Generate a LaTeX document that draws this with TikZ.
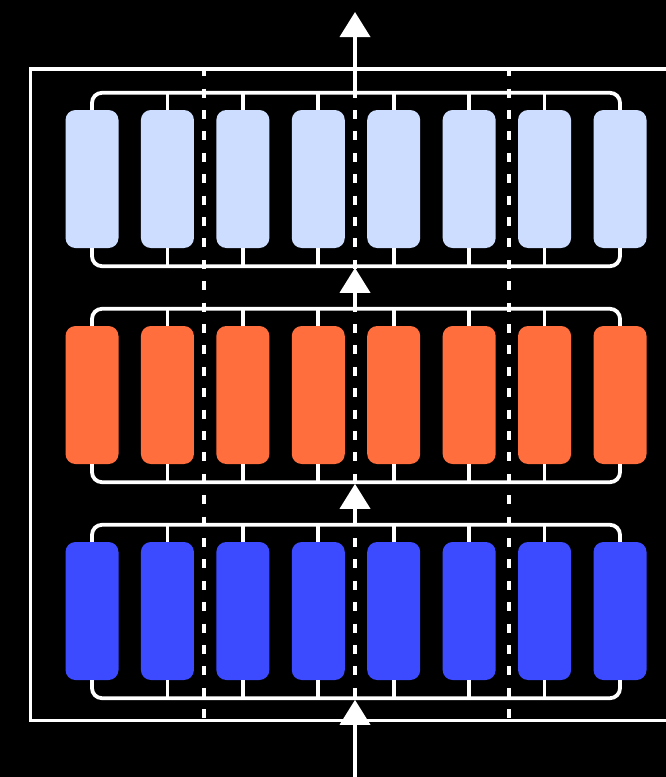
\documentclass[tikz,border=0pt]{standalone}
\usetikzlibrary{arrows.meta,calc}
\definecolor{lb}{RGB}{204,221,255}
\definecolor{og}{RGB}{255,110,60}
\definecolor{bl}{RGB}{60,75,255}
\begin{document}
\begin{tikzpicture}[x=1pt,y=-1pt,
  cell/.style={rounded corners=10pt, minimum width=53pt, minimum height=138pt, inner sep=0pt, draw=none},
  wire/.style={draw=white, line width=3.8pt},
  sep/.style={draw=white, line width=4.2pt, dash pattern=on 9pt off 12.4pt},
  flow/.style={draw=white, line width=3.8pt, -{Triangle[width=30pt,length=25pt]}}]
\fill[black] (0,0) rectangle (666,777);
\useasboundingbox (0,0) rectangle (666,777);
\clip (0,0) rectangle (666,777);
% outer frame
\draw[wire] (30.5,68.7) rectangle (720,720.5);
% separators
\foreach \x in {204,355,509}{
  \draw[sep] (\x,67.2) -- (\x,720.5);
}
% cells
\foreach \r/\c/\y in {1/lb/179,2/og/395,3/bl/611}{
  \foreach \i in {0,...,7}{
    \node[cell, fill=\c] (r\r\i) at ({92+75.43*\i},\y) {};
  }
}
% brackets
\foreach \r in {1,2,3}{
  \draw[wire, rounded corners=10pt] (r\r0.north) -- ++(0,-17) -| (r\r7.north);
  \draw[wire, rounded corners=10pt] (r\r0.south) -- ++(0,18) -| (r\r7.south);
  \foreach \i in {1,...,6}{
    \draw[wire] (r\r\i.north) -- ++(0,-17);
    \draw[wire] (r\r\i.south) -- ++(0,18);
  }
}
% arrow endpoints
\coordinate (top) at (355,12);
\foreach \r in {1,2,3}{
  \coordinate (in\r) at (355,{179+216*(\r-1)-69-17});
  \coordinate (out\r) at (355,{179+216*(\r-1)+69+19.8});
}
\coordinate (bottom) at (355,777);
\draw[flow] (in1) -- (top);
\draw[flow] (in2) -- (out1);
\draw[flow] (in3) -- (out2);
\draw[flow] (bottom) -- (out3);
\end{tikzpicture}
\end{document}
